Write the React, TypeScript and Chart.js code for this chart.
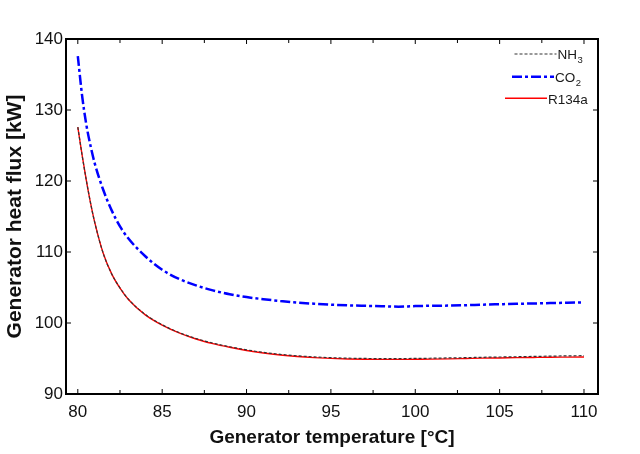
import { useEffect, useRef } from "react";
import { Chart, registerables, type ChartConfiguration, type Plugin } from "chart.js";

Chart.register(...registerables);

// generator temperature [°C]
const temperatures = [
  80, 80.25, 80.5, 80.75, 81, 81.5, 82, 82.5, 83, 84, 85, 86, 87, 88, 89, 90, 91, 92, 93, 94, 95,
  96, 97, 98, 99, 100, 101, 102, 103, 104, 105, 106, 107, 108, 109, 110,
];

// generator heat flux [kW]
const nh3Flux = [
  127.6, 123.7, 120.15, 116.95, 114.2, 109.85, 106.95, 104.95, 103.35, 101.2, 99.76, 98.66, 97.82,
  97.18, 96.66, 96.22, 95.86, 95.58, 95.38, 95.23, 95.12, 95.05, 95.01, 94.99, 94.99, 95.01, 95.04,
  95.08, 95.12, 95.17, 95.21, 95.25, 95.29, 95.33, 95.37, 95.4,
];
const co2Flux = [
  137.6, 132.1, 128.0, 125.0, 122.5, 118.8, 115.9, 113.6, 111.9, 109.4, 107.5, 106.2, 105.3, 104.6,
  104.05, 103.65, 103.35, 103.1, 102.88, 102.72, 102.58, 102.48, 102.42, 102.37, 102.3, 102.38,
  102.43, 102.45, 102.5, 102.58, 102.64, 102.7, 102.75, 102.8, 102.85, 102.9,
];
const r134aFlux = [
  127.6, 123.7, 120.15, 116.95, 114.2, 109.85, 106.95, 104.9, 103.3, 101.15, 99.7, 98.6, 97.75,
  97.1, 96.58, 96.13, 95.77, 95.49, 95.28, 95.13, 95.02, 94.94, 94.89, 94.87, 94.87, 94.89, 94.91,
  94.95, 95.0, 95.05, 95.08, 95.12, 95.15, 95.18, 95.2, 95.22,
];

const xMajorTicks = [80, 85, 90, 95, 100, 105, 110];
const xMinorTicks = [82.5, 87.5, 92.5, 97.5, 102.5, 107.5];
const yTicks = [90, 100, 110, 120, 130, 140];

// legend entries: base text + subscript
const legendEntries = [
  { base: "NH", sub: "3", color: "#333333", dash: [3, 2], width: 1.2 },
  { base: "CO", sub: "2", color: "#0000ff", dash: [10, 3, 3, 3], width: 2.5 },
  { base: "R134a", sub: "", color: "#ff0000", dash: [] as number[], width: 1.4 },
];

const FONT = "'Liberation Sans', Arial, sans-serif";

const toPoints = (ys: number[]) => temperatures.map((t, i) => ({ x: t, y: ys[i] }));

const framePlugin: Plugin<"line"> = {
  id: "frame",
  afterDraw(chart) {
    const { ctx, chartArea: a, scales } = chart;
    const x = scales.x;
    const y = scales.y;
    ctx.save();
    ctx.strokeStyle = "#000";
    ctx.lineWidth = 1;
    ctx.beginPath();
    const tick = (len: number, v: number) => {
      const px = x.getPixelForValue(v);
      ctx.moveTo(px, a.bottom);
      ctx.lineTo(px, a.bottom - len);
      ctx.moveTo(px, a.top);
      ctx.lineTo(px, a.top + len);
    };
    xMajorTicks.forEach((v) => tick(5, v));
    xMinorTicks.forEach((v) => tick(4, v));
    yTicks.forEach((v) => {
      const py = y.getPixelForValue(v);
      ctx.moveTo(a.left, py);
      ctx.lineTo(a.left + 5, py);
      ctx.moveTo(a.right, py);
      ctx.lineTo(a.right - 5, py);
    });
    ctx.stroke();
    ctx.lineWidth = 2;
    ctx.strokeRect(a.left, a.top, a.right - a.left, a.bottom - a.top);

    // legend
    const rows = [54, 76.7, 98.3];
    const textX = [557.5, 555, 548];
    legendEntries.forEach((e, i) => {
      const ly = rows[i];
      ctx.beginPath();
      ctx.setLineDash(e.dash);
      ctx.strokeStyle = e.color;
      ctx.lineWidth = e.width;
      ctx.moveTo(textX[i] - 43, ly);
      ctx.lineTo(textX[i] - 1, ly);
      ctx.stroke();
      ctx.setLineDash([]);
      ctx.fillStyle = "#1a1a1a";
      ctx.textBaseline = "alphabetic";
      ctx.textAlign = "left";
      ctx.font = `13.5px ${FONT}`;
      ctx.fillText(e.base, textX[i], ly + 5.3);
      if (e.sub) {
        const w = ctx.measureText(e.base).width;
        ctx.font = `9.5px ${FONT}`;
        ctx.fillText(e.sub, textX[i] + w + 0.5, ly + 9.3);
      }
    });
    ctx.restore();
  },
};

const whiteBg: Plugin<"line"> = {
  id: "whiteBg",
  beforeDraw(chart) {
    const { ctx, width, height } = chart;
    ctx.save();
    ctx.fillStyle = "#fff";
    ctx.fillRect(0, 0, width, height);
    ctx.restore();
  },
};

export default function App() {
  const canvasRef = useRef<HTMLCanvasElement | null>(null);
  const chartRef = useRef<Chart<"line"> | null>(null);

  useEffect(() => {
    document.body.style.margin = "0";
    const canvas = canvasRef.current;
    if (!canvas) return;

    const config: ChartConfiguration<"line"> = {
      type: "line",
      data: {
        datasets: [
          {
            label: "CO2",
            data: toPoints(co2Flux),
            borderColor: "#0000ff",
            borderWidth: 2.5,
            borderDash: [10, 3, 3, 3],
            pointRadius: 0,
            cubicInterpolationMode: "monotone",
          },
          {
            label: "NH3",
            data: toPoints(nh3Flux),
            borderColor: "#333333",
            borderWidth: 1.2,
            borderDash: [3, 2],
            pointRadius: 0,
            cubicInterpolationMode: "monotone",
          },
          {
            label: "R134a",
            data: toPoints(r134aFlux),
            borderColor: "#ff0000",
            borderWidth: 1.4,
            pointRadius: 0,
            cubicInterpolationMode: "monotone",
          },
        ],
      },
      options: {
        responsive: false,
        animation: false,
        layout: { padding: { left: 0, top: 39, right: 42, bottom: 0 } },
        plugins: { legend: { display: false }, tooltip: { enabled: false } },
        scales: {
          x: {
            type: "linear",
            min: 79.3,
            max: 110.83,
            afterFit: (s) => {
              s.height = 60;
            },
            afterBuildTicks: (s) => {
              s.ticks = xMajorTicks.map((v) => ({ value: v }));
            },
            grid: { display: false, drawTicks: false },
            border: { display: false },
            ticks: {
              maxRotation: 0,
              padding: 8,
              color: "#111",
              font: { family: FONT, size: 17 },
            },
            title: {
              display: true,
              text: "Generator temperature [°C]",
              color: "#111",
              font: { family: FONT, size: 19, weight: "bold", lineHeight: 1.2 },
              padding: { top: 0, bottom: 4.6 },
            },
          },
          y: {
            min: 90,
            max: 140,
            afterFit: (s) => {
              s.width = 66;
            },
            afterBuildTicks: (s) => {
              s.ticks = yTicks.map((v) => ({ value: v }));
            },
            grid: { display: false, drawTicks: false },
            border: { display: false },
            ticks: {
              padding: 3,
              color: "#111",
              font: { family: FONT, size: 17 },
            },
            title: {
              display: true,
              text: "Generator heat flux [kW]",
              color: "#111",
              font: { family: FONT, size: 21, weight: "bold", lineHeight: 1.2 },
              padding: { top: 2.4, bottom: 0 },
            },
          },
        },
      },
      plugins: [whiteBg, framePlugin],
    };

    chartRef.current = new Chart(canvas, config);
    return () => {
      if (chartRef.current) {
        chartRef.current.destroy();
        chartRef.current = null;
      }
    };
  }, []);

  return (
    <div style={{ width: 640, height: 454 }}>
      <canvas ref={canvasRef} width={640} height={454} style={{ display: "block" }} />
    </div>
  );
}
